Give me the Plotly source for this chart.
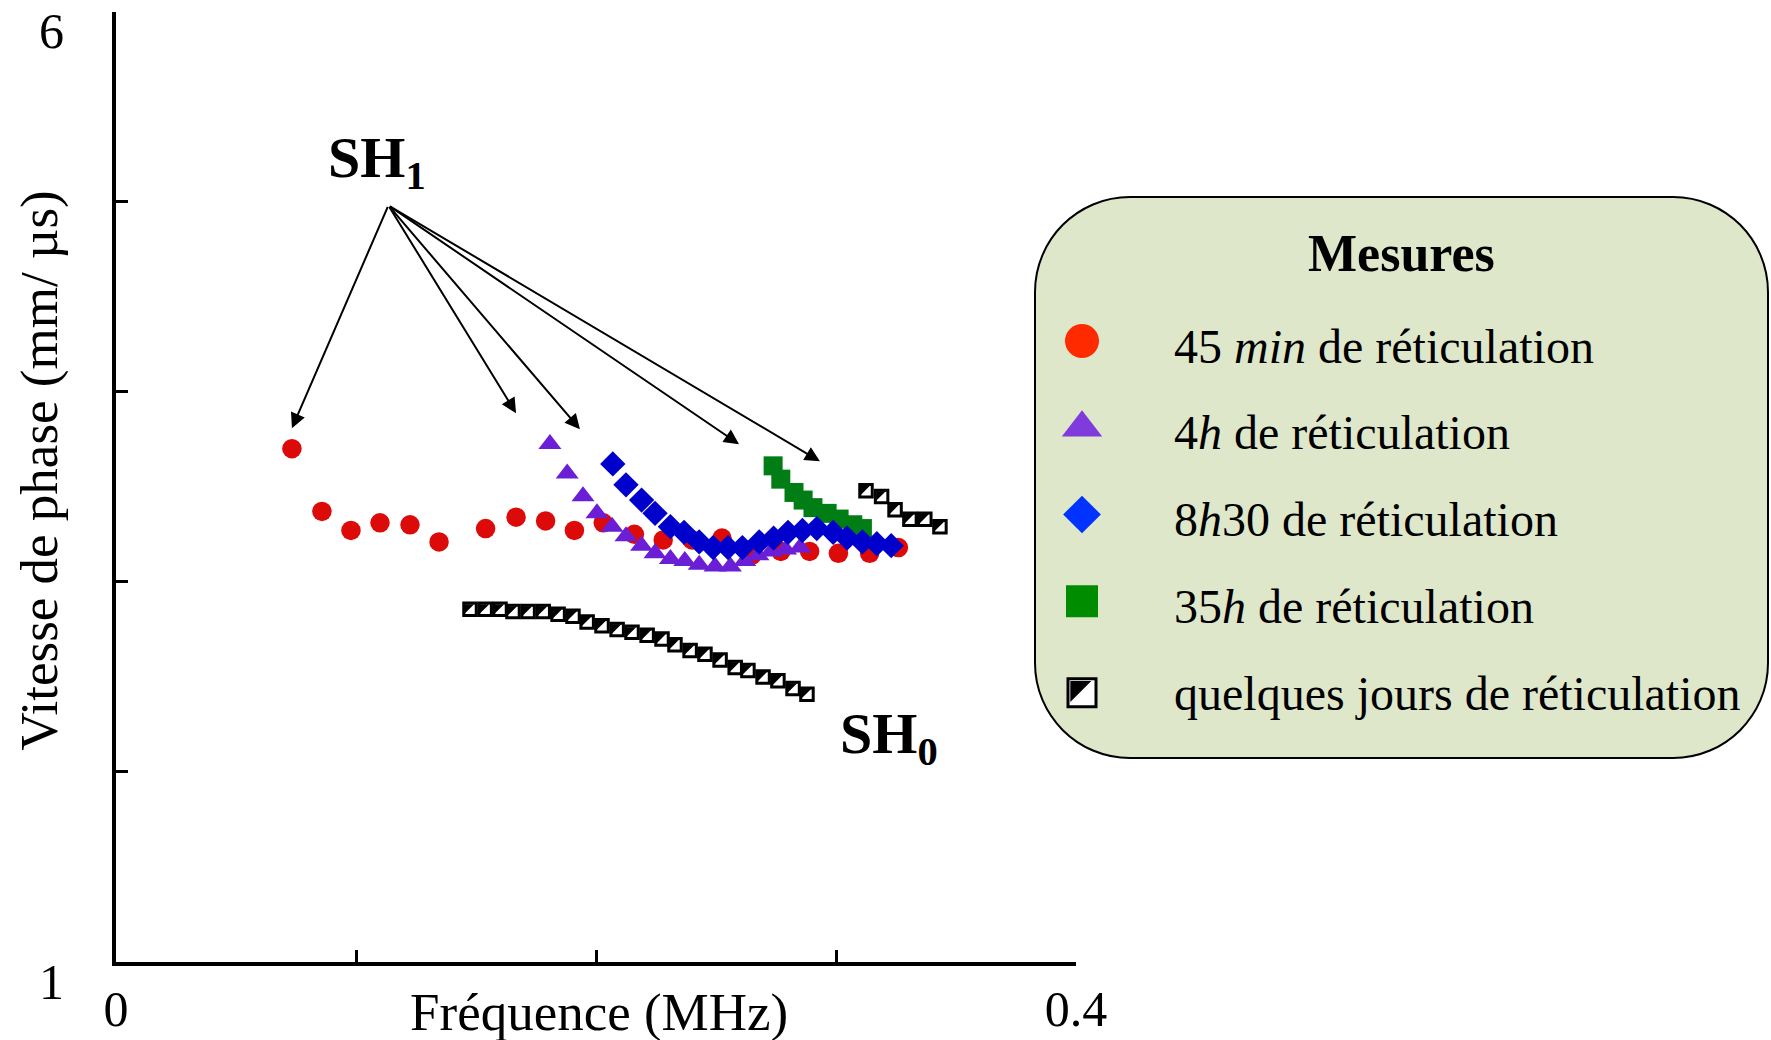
import plotly.graph_objects as go

W, H = 1771, 1040
FONT = "Liberation Serif, Times New Roman, serif"

# ---------------- data ----------------
min45_x = [0.0733, 0.0858, 0.0979, 0.1100, 0.1225, 0.1346, 0.1540, 0.1667, 0.1790, 0.1910,
           0.2030, 0.2160, 0.2280, 0.2400, 0.2525, 0.2650, 0.2770, 0.2890, 0.3010, 0.3140, 0.3260]
min45_y = [3.70, 3.37, 3.27, 3.31, 3.30, 3.21, 3.28, 3.34, 3.32, 3.27,
           3.31, 3.25, 3.22, 3.22, 3.23, 3.14, 3.16, 3.16, 3.15, 3.15, 3.18]

h4_x = [0.1808, 0.1880, 0.1946, 0.2004, 0.2067, 0.2125, 0.2190, 0.2246, 0.2310, 0.2370,
        0.2430, 0.2496, 0.2560, 0.2620, 0.2675, 0.2730, 0.2790, 0.2850]
h4_y = [3.725, 3.57, 3.45, 3.36, 3.29, 3.24, 3.19, 3.15, 3.12, 3.11,
        3.09, 3.08, 3.08, 3.11, 3.14, 3.16, 3.17, 3.18]

h830_x = [0.2070, 0.2125, 0.2190, 0.2246, 0.2310, 0.2367, 0.2430, 0.2488, 0.2550, 0.2610,
          0.2680, 0.2740, 0.2800, 0.2860, 0.2920, 0.2988, 0.3046, 0.3110, 0.3170, 0.3230]
h830_y = [3.62, 3.51, 3.43, 3.36, 3.29, 3.26, 3.21, 3.18, 3.18, 3.18,
          3.21, 3.23, 3.26, 3.27, 3.28, 3.26, 3.23, 3.21, 3.20, 3.19]

h35_x = [0.2738, 0.2770, 0.2825, 0.2863, 0.2904, 0.2963, 0.3013, 0.3070, 0.3110]
h35_y = [3.61, 3.54, 3.47, 3.43, 3.39, 3.36, 3.33, 3.30, 3.28]

jours_sh1_x = [0.3125, 0.3190, 0.3246, 0.3308, 0.3370, 0.3433]
jours_sh1_y = [3.49, 3.46, 3.39, 3.34, 3.34, 3.30]

jours_sh0_x = [0.1475, 0.1538, 0.1600, 0.1654, 0.1717, 0.1780, 0.1842, 0.1904, 0.1963, 0.2025,
               0.2088, 0.2150, 0.2213, 0.2275, 0.2329, 0.2392, 0.2454, 0.2517, 0.2580, 0.2633,
               0.2696, 0.2758, 0.2821, 0.2879]
jours_sh0_y = [2.866, 2.866, 2.866, 2.855, 2.855, 2.855, 2.84, 2.83, 2.80, 2.78,
               2.76, 2.745, 2.73, 2.71, 2.68, 2.65, 2.63, 2.60, 2.56, 2.545,
               2.51, 2.49, 2.45, 2.42]

legend_labels = ["45 <i>min</i> de réticulation", "4<i>h</i> de réticulation",
                 "8<i>h</i>30 de réticulation", "35<i>h</i> de réticulation",
                 "quelques jours de réticulation"]

x_tickvals = [0, 0.1, 0.2, 0.3, 0.4]
x_ticktext = ["0", "", "", "", "0.4"]
y_tickvals = [1, 2, 3, 4, 5, 6]
y_ticktext = ["1", "", "", "", "", "6"]

# SH1 arrows: common tail and the tips
sh1_tail = (0.1135, 4.98)
sh1_tips_x = [0.0733, 0.1667, 0.1933, 0.2596, 0.2933]
sh1_tips_y = [3.808, 3.887, 3.803, 3.724, 3.634]

# ---------------- layout geometry (pixels) ----------------
PL, PR, PT, PB = 116, 1076, 11.5, 962
LX0, LX1, LY0, LY1 = 1035, 1768, 197, 758
# inset pixel axis used for the legend box (slightly larger than the box)
AX0, AX1, AY0, AY1 = LX0 - 4, W, LY0 - 4, LY1 + 4

fig = go.Figure()


def half_square(x, y, size, lw, xa="x", ya="y"):
    """square with upper-left diagonal half black"""
    h = size / 2.0
    rt = h / 1.2
    fig.add_trace(go.Scatter(
        x=x, y=y, mode="markers", xaxis=xa, yaxis=ya, showlegend=False, hoverinfo="skip",
        marker=dict(symbol="square", size=size, color="white",
                    line=dict(color="black", width=lw), angle=0, standoff=0.4 * rt)))
    fig.add_trace(go.Scatter(
        x=x, y=y, mode="markers", xaxis=xa, yaxis=ya, showlegend=False, hoverinfo="skip",
        marker=dict(symbol="triangle-sw", size=2 * rt, color="black",
                    line=dict(width=0), angle=90, standoff=0.4 * rt)))


# data traces
fig.add_trace(go.Scatter(x=min45_x, y=min45_y, mode="markers", showlegend=False,
                         marker=dict(symbol="circle", size=19.5, color="#dd0a0a", line=dict(width=0))))
fig.add_trace(go.Scatter(x=h4_x, y=h4_y, mode="markers", showlegend=False,
                         marker=dict(symbol="triangle-up", size=20, color="#6a1fd6", line=dict(width=0))))
fig.add_trace(go.Scatter(x=h35_x, y=h35_y, mode="markers", showlegend=False,
                         marker=dict(symbol="square", size=19, color="#007d14", line=dict(width=0))))
half_square(jours_sh0_x, jours_sh0_y, 12.5, 3)
half_square(jours_sh1_x, jours_sh1_y, 12.5, 3)
fig.add_trace(go.Scatter(x=h830_x, y=h830_y, mode="markers", showlegend=False,
                         marker=dict(symbol="diamond", size=19.5, color="#0000cd", line=dict(width=0))))

# ---------------- legend box (drawn on an inset pixel axis) ----------------
R = 95
k = 0.5523 * R
path = (f"M{LX0+R},{LY0} L{LX1-R},{LY0} "
        f"C{LX1-R+k},{LY0} {LX1},{LY0+R-k} {LX1},{LY0+R} "
        f"L{LX1},{LY1-R} C{LX1},{LY1-R+k} {LX1-R+k},{LY1} {LX1-R},{LY1} "
        f"L{LX0+R},{LY1} C{LX0+R-k},{LY1} {LX0},{LY1-R+k} {LX0},{LY1-R} "
        f"L{LX0},{LY0+R} C{LX0},{LY0+R-k} {LX0+R-k},{LY0} {LX0+R},{LY0} Z")
fig.add_shape(type="path", path=path, xref="x2", yref="y2", layer="below",
              fillcolor="#dfe7ca", line=dict(color="black", width=2))

row_y = [341 + 86.75 * i for i in range(5)]
mx = 1082
leg_styles = [
    dict(symbol="circle", size=34, color="#ff2a00"),
    dict(symbol="triangle-up", size=35, color="#7f3bdb"),
    dict(symbol="diamond", size=29, color="#0033ff"),
    dict(symbol="square", size=32, color="#008c00"),
]
for i, st in enumerate(leg_styles):
    fig.add_trace(go.Scatter(x=[mx], y=[row_y[i]], xaxis="x2", yaxis="y2", mode="markers",
                             showlegend=False, hoverinfo="skip",
                             marker=dict(line=dict(width=0), **st)))
half_square([mx], [row_y[4]], 28, 3, xa="x2", ya="y2")

for i, lab in enumerate(legend_labels):
    fig.add_annotation(x=1172, y=row_y[i] + 5, xref="x2", yref="y2", text=lab,
                       showarrow=False, xanchor="left", yanchor="middle",
                       font=dict(family=FONT, size=48, color="black"))
fig.add_annotation(x=(LX0 + LX1) / 2, y=253, xref="x2", yref="y2", text="<b>Mesures</b>",
                   showarrow=False, xanchor="center", yanchor="middle",
                   font=dict(family=FONT, size=52, color="black"))

# ---------------- SH labels and arrows ----------------
for tx, ty in zip(sh1_tips_x, sh1_tips_y):
    fig.add_annotation(x=tx, y=ty, ax=sh1_tail[0], ay=sh1_tail[1], xref="x", yref="y",
                       axref="x", ayref="y", text="", showarrow=True, arrowhead=2,
                       arrowsize=1.5, arrowwidth=2, arrowcolor="black", standoff=0, startstandoff=0)
fig.add_annotation(x=0.0875, y=5.21, xref="x", yref="y", text="<b>SH<sub>1</sub></b>",
                   showarrow=False, xanchor="left", yanchor="middle",
                   font=dict(family=FONT, size=58, color="black"))
fig.add_annotation(x=0.3008, y=2.18, xref="x", yref="y", text="<b>SH<sub>0</sub></b>",
                   showarrow=False, xanchor="left", yanchor="middle",
                   font=dict(family=FONT, size=58, color="black"))

# axis titles
fig.add_annotation(x=598.6 / W, y=1 - 1012 / H, xref="paper", yref="paper",
                   text="Fréquence (MHz)", showarrow=False, xanchor="center", yanchor="middle",
                   font=dict(family=FONT, size=53, color="black"))
fig.add_annotation(x=39.5 / W, y=1 - 471 / H, xref="paper", yref="paper",
                   text="Vitesse de phase (mm/ µs)", textangle=-90, showarrow=False,
                   xanchor="center", yanchor="middle",
                   font=dict(family=FONT, size=53, color="black"))

axis_common = dict(showgrid=False, zeroline=False, showline=True, linecolor="black",
                   linewidth=4, ticks="inside", ticklen=12, tickwidth=3, tickcolor="black",
                   tickfont=dict(family=FONT, size=50, color="black"), automargin=False,
                   ticklabeloverflow="allow")

fig.update_layout(
    width=W, height=H,
    margin=dict(l=0, r=0, t=0, b=0, pad=0),
    paper_bgcolor="white", plot_bgcolor="rgba(0,0,0,0)",
    showlegend=False,
    font=dict(family=FONT, color="black"),
    xaxis=dict(domain=[PL / W, PR / W], range=[0, 0.4], tickvals=x_tickvals, ticktext=x_ticktext,
               ticklabelstandoff=0, **axis_common),
    yaxis=dict(domain=[1 - PB / H, 1 - PT / H], range=[1, 6], tickvals=y_tickvals, ticktext=y_ticktext,
               ticklabelstandoff=38, ticklabelshift=19, **axis_common),
    xaxis2=dict(domain=[AX0 / W, AX1 / W], range=[AX0, AX1], visible=False, anchor="y2"),
    yaxis2=dict(domain=[1 - AY1 / H, 1 - AY0 / H], range=[AY1, AY0], visible=False, anchor="x2"),
)

# the figure is exactly the window size: drop the page's default body margin
fig.write_html("out.html", config={"displayModeBar": False},
               post_script="document.body.style.margin='0';document.body.style.overflow='hidden';")
